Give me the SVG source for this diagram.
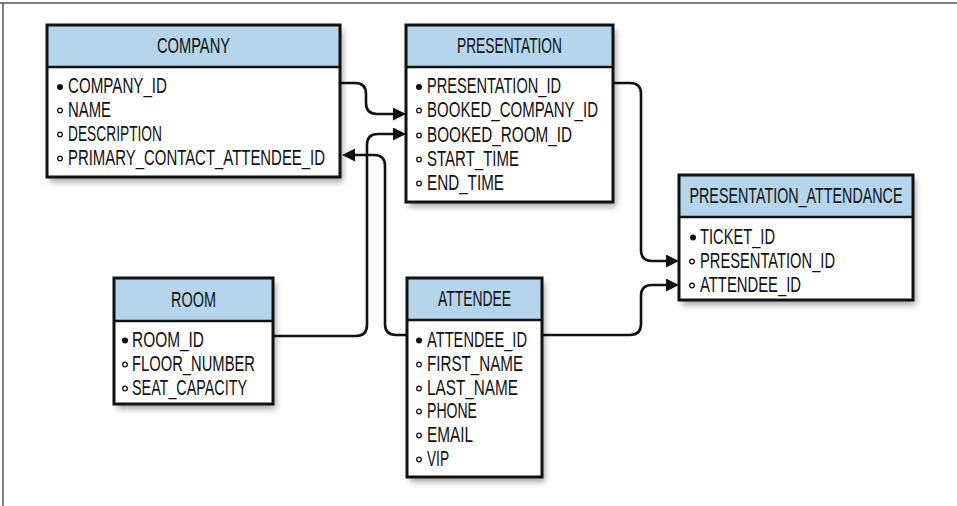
<svg xmlns="http://www.w3.org/2000/svg" width="957" height="506" viewBox="0 0 957 506">
<style>
  text { font-family: "Liberation Sans Narrow", "Liberation Sans", Arial, sans-serif; font-size: 21.5px; fill: #111; }
  .title { text-anchor: middle; }
  .box { fill: #fff; }
  .hdr { fill: #b4d5eb; }
  .outline { fill: none; stroke: #111; stroke-width: 3; }
  .sep { stroke: #111; stroke-width: 2.5; }
  .pk { fill: #111; }
  .fk { fill: #fff; stroke: #111; stroke-width: 1.3; }
  .conn { fill: none; stroke: #111; stroke-width: 2.6; marker-end: url(#arrow); }
  .frame { stroke: #555; stroke-width: 1.5; }
</style>
<defs>
  <filter id="shadow" x="-10%" y="-10%" width="130%" height="130%">
    <feDropShadow dx="3" dy="5" stdDeviation="3" flood-color="#000" flood-opacity="0.35"/>
  </filter>
  <marker id="arrow" markerUnits="userSpaceOnUse" markerWidth="14" markerHeight="14" refX="0" refY="6.5" orient="auto">
    <path d="M0,0 L13,6.5 L0,13 z" fill="#111"/>
  </marker>
</defs>

<line class="frame" x1="0" y1="3" x2="957" y2="3"/>
<line class="frame" x1="3" y1="3" x2="3" y2="506"/>

<g id="connectors">
  <path class="conn" d="M340,83 H355 Q366,83 366,94 V103 Q366,114 377,114 H393"/>
  <path class="conn" d="M273,336 H356 Q367,336 367,325 V145 Q367,134 378,134 H393"/>
  <path class="conn" d="M407,335 H396 Q385,335 385,324 V166 Q385,155 374,155 H355"/>
  <path class="conn" d="M613,83 H630 Q641,83 641,94 V250 Q641,261 652,261 H666"/>
  <path class="conn" d="M542,335 H630 Q641,335 641,324 V296 Q641,285 652,285 H666"/>
</g>

<g id="company">
  <rect class="box" x="47" y="25" width="293" height="152" filter="url(#shadow)"/>
  <rect class="hdr" x="47" y="25" width="293" height="42"/>
  <line class="sep" x1="47" y1="67" x2="340" y2="67"/>
  <rect class="outline" x="47" y="25" width="293" height="152"/>
  <text class="title" x="193.5" y="53" textLength="73" lengthAdjust="spacingAndGlyphs">COMPANY</text>
  <circle class="pk" cx="60" cy="87" r="3"/>
  <text x="68" y="93" textLength="99" lengthAdjust="spacingAndGlyphs">COMPANY_ID</text>
  <circle class="fk" cx="60" cy="110.5" r="2.3"/>
  <text x="68" y="117" textLength="43" lengthAdjust="spacingAndGlyphs">NAME</text>
  <circle class="fk" cx="60" cy="134.5" r="2.3"/>
  <text x="68" y="141" textLength="94" lengthAdjust="spacingAndGlyphs">DESCRIPTION</text>
  <circle class="fk" cx="60" cy="158.5" r="2.3"/>
  <text x="68" y="165" textLength="257" lengthAdjust="spacingAndGlyphs">PRIMARY_CONTACT_ATTENDEE_ID</text>
</g>

<g id="presentation">
  <rect class="box" x="406" y="25" width="207" height="177" filter="url(#shadow)"/>
  <rect class="hdr" x="406" y="25" width="207" height="42"/>
  <line class="sep" x1="406" y1="67" x2="613" y2="67"/>
  <rect class="outline" x="406" y="25" width="207" height="177"/>
  <text class="title" x="509.5" y="53" textLength="105" lengthAdjust="spacingAndGlyphs">PRESENTATION</text>
  <circle class="pk" cx="419" cy="87" r="3"/>
  <text x="427" y="93" textLength="134" lengthAdjust="spacingAndGlyphs">PRESENTATION_ID</text>
  <circle class="fk" cx="419" cy="110.5" r="2.3"/>
  <text x="427" y="117" textLength="171" lengthAdjust="spacingAndGlyphs">BOOKED_COMPANY_ID</text>
  <circle class="fk" cx="419" cy="135.5" r="2.3"/>
  <text x="427" y="142" textLength="145" lengthAdjust="spacingAndGlyphs">BOOKED_ROOM_ID</text>
  <circle class="fk" cx="419" cy="159.5" r="2.3"/>
  <text x="427" y="166" textLength="92" lengthAdjust="spacingAndGlyphs">START_TIME</text>
  <circle class="fk" cx="419" cy="183.5" r="2.3"/>
  <text x="427" y="190" textLength="77" lengthAdjust="spacingAndGlyphs">END_TIME</text>
</g>

<g id="presentation_attendance">
  <rect class="box" x="679" y="175" width="234" height="125" filter="url(#shadow)"/>
  <rect class="hdr" x="679" y="175" width="234" height="42"/>
  <line class="sep" x1="679" y1="217" x2="913" y2="217"/>
  <rect class="outline" x="679" y="175" width="234" height="125"/>
  <text class="title" x="796" y="203" textLength="213" lengthAdjust="spacingAndGlyphs">PRESENTATION_ATTENDANCE</text>
  <circle class="pk" cx="693" cy="237.5" r="3"/>
  <text x="700" y="244" textLength="75" lengthAdjust="spacingAndGlyphs">TICKET_ID</text>
  <circle class="fk" cx="692" cy="261.5" r="2.3"/>
  <text x="700" y="268" textLength="135" lengthAdjust="spacingAndGlyphs">PRESENTATION_ID</text>
  <circle class="fk" cx="692" cy="285.5" r="2.3"/>
  <text x="700" y="292" textLength="101" lengthAdjust="spacingAndGlyphs">ATTENDEE_ID</text>
</g>

<g id="room">
  <rect class="box" x="114" y="278" width="159" height="126" filter="url(#shadow)"/>
  <rect class="hdr" x="114" y="278" width="159" height="43"/>
  <line class="sep" x1="114" y1="321" x2="273" y2="321"/>
  <rect class="outline" x="114" y="278" width="159" height="126"/>
  <text class="title" x="193.5" y="307" textLength="45" lengthAdjust="spacingAndGlyphs">ROOM</text>
  <circle class="pk" cx="125" cy="340.5" r="3"/>
  <text x="132" y="347" textLength="72" lengthAdjust="spacingAndGlyphs">ROOM_ID</text>
  <circle class="fk" cx="125" cy="364.5" r="2.3"/>
  <text x="132" y="371" textLength="123" lengthAdjust="spacingAndGlyphs">FLOOR_NUMBER</text>
  <circle class="fk" cx="125" cy="388.5" r="2.3"/>
  <text x="132" y="395" textLength="115" lengthAdjust="spacingAndGlyphs">SEAT_CAPACITY</text>
</g>

<g id="attendee">
  <rect class="box" x="407" y="278" width="135" height="199" filter="url(#shadow)"/>
  <rect class="hdr" x="407" y="278" width="135" height="42"/>
  <line class="sep" x1="407" y1="320" x2="542" y2="320"/>
  <rect class="outline" x="407" y="278" width="135" height="199"/>
  <text class="title" x="474.5" y="306" textLength="73" lengthAdjust="spacingAndGlyphs">ATTENDEE</text>
  <circle class="pk" cx="419" cy="340.5" r="3"/>
  <text x="427" y="347" textLength="100" lengthAdjust="spacingAndGlyphs">ATTENDEE_ID</text>
  <circle class="fk" cx="419" cy="364.5" r="2.3"/>
  <text x="427" y="371" textLength="96" lengthAdjust="spacingAndGlyphs">FIRST_NAME</text>
  <circle class="fk" cx="419" cy="388.5" r="2.3"/>
  <text x="427" y="395" textLength="91" lengthAdjust="spacingAndGlyphs">LAST_NAME</text>
  <circle class="fk" cx="419" cy="411.5" r="2.3"/>
  <text x="427" y="418" textLength="50" lengthAdjust="spacingAndGlyphs">PHONE</text>
  <circle class="fk" cx="419" cy="435.5" r="2.3"/>
  <text x="427" y="442" textLength="46" lengthAdjust="spacingAndGlyphs">EMAIL</text>
  <circle class="fk" cx="419" cy="459.5" r="2.3"/>
  <text x="427" y="466" textLength="22" lengthAdjust="spacingAndGlyphs">VIP</text>
</g>
</svg>
